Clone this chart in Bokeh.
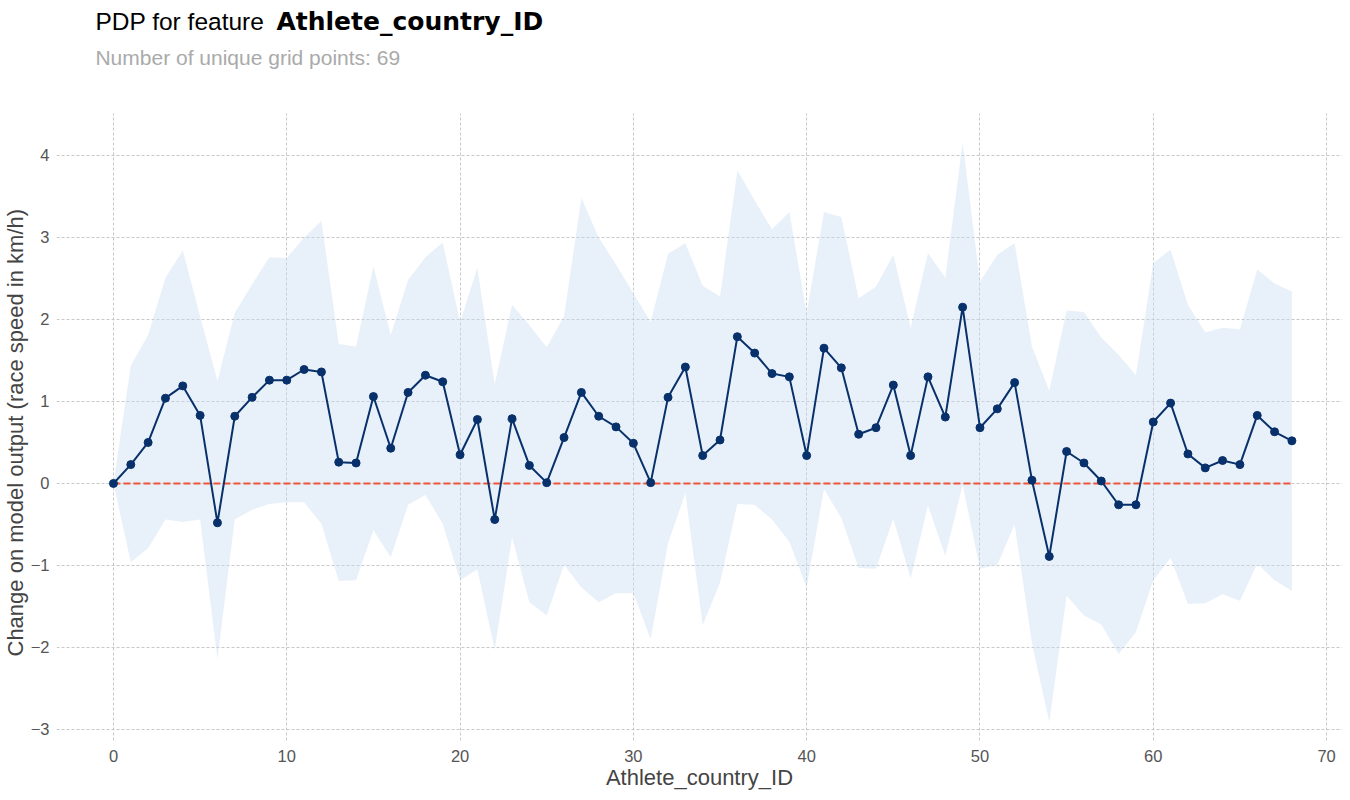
from bokeh.plotting import figure
from bokeh.models import Range1d, FixedTicker, CustomJSTickFormatter, Label, ColumnDataSource, Grid, Title
from bokeh.embed import file_html
from bokeh.resources import INLINE

# ---- data ----
grid_x = list(range(69))
pdp = [0.00, 0.23, 0.50, 1.04, 1.19, 0.83, -0.48, 0.82, 1.05, 1.26,
       1.26, 1.39, 1.36, 0.26, 0.25, 1.06, 0.43, 1.11, 1.32, 1.24,
       0.35, 0.78, -0.44, 0.79, 0.22, 0.01, 0.56, 1.11, 0.82, 0.69,
       0.49, 0.01, 1.05, 1.42, 0.34, 0.53, 1.79, 1.59, 1.34, 1.30,
       0.34, 1.65, 1.41, 0.60, 0.68, 1.20, 0.34, 1.30, 0.81, 2.15,
       0.68, 0.91, 1.23, 0.04, -0.89, 0.39, 0.25, 0.03, -0.26, -0.26,
       0.75, 0.98, 0.36, 0.19, 0.28, 0.23, 0.83, 0.63, 0.52]
upper = [0.00, 1.44, 1.81, 2.51, 2.84, 2.04, 1.25, 2.08, 2.43, 2.76,
         2.75, 3.00, 3.20, 1.70, 1.67, 2.65, 1.81, 2.48, 2.76, 2.94,
         1.97, 2.63, 1.21, 2.18, 1.93, 1.66, 2.04, 3.48, 3.00, 2.67,
         2.32, 1.97, 2.80, 2.93, 2.41, 2.28, 3.82, 3.45, 3.10, 3.31,
         2.08, 3.31, 3.25, 2.26, 2.40, 2.79, 1.90, 2.81, 2.51, 4.16,
         2.46, 2.79, 2.93, 1.67, 1.13, 2.11, 2.09, 1.78, 1.57, 1.32,
         2.69, 2.85, 2.18, 1.84, 1.90, 1.88, 2.61, 2.44, 2.34]
lower = [0.00, -0.96, -0.79, -0.44, -0.47, -0.44, -2.14, -0.44, -0.32, -0.25,
         -0.23, -0.23, -0.49, -1.19, -1.18, -0.57, -0.90, -0.26, -0.14, -0.49,
         -1.18, -1.05, -2.03, -0.66, -1.45, -1.61, -0.99, -1.27, -1.45, -1.34,
         -1.34, -1.90, -0.73, -0.12, -1.73, -1.21, -0.25, -0.26, -0.44, -0.71,
         -1.27, -0.07, -0.42, -1.03, -1.04, -0.43, -1.16, -0.27, -0.88, -0.02,
         -1.04, -0.99, -0.50, -1.95, -2.91, -1.37, -1.61, -1.72, -2.08, -1.81,
         -1.18, -0.91, -1.47, -1.46, -1.35, -1.43, -0.98, -1.18, -1.31]
x_ticks = [0, 10, 20, 30, 40, 50, 60, 70]
y_ticks = [-3, -2, -1, 0, 1, 2, 3, 4]
feature_name = "Athlete_country_ID"
title_prefix = "PDP for feature "
subtitle = "Number of unique grid points: 69"
x_title = "Athlete_country_ID"
y_title = "Change on model output (race speed in km/h)"
baseline = [0.0, 0.0]
baseline_x = [grid_x[0], grid_x[-1]]

FONT = "Liberation Sans"
Y_LO, Y_HI = -3.256, 4.512      # visible plotting band (data units)

src = ColumnDataSource(dict(x=grid_x, y=pdp, lo=lower, hi=upper))

p = figure(width=1342, height=792, output_backend="svg", toolbar_location=None,
           x_range=Range1d(-3.287, 70.92), y_range=Range1d(-3.159, 5.89),
           min_border_left=40, min_border_right=0, min_border_top=0, min_border_bottom=40)
p.outline_line_color = None
p.background_fill_color = "white"

# band
p.varea(x="x", y1="lo", y2="hi", source=src, fill_color="#c6dbef", fill_alpha=0.4)
# zero line
p.line(baseline_x, baseline, line_color="#ef553b", line_width=2, line_dash="7 3")
# pdp line + markers
p.line("x", "y", source=src, line_color="#08306b", line_width=2)
p.scatter("x", "y", source=src, size=8, fill_color="#08306b", line_color="#08306b")

# grids
for g in (p.xgrid, p.ygrid):
    g.grid_line_color = "#c8c8c8"
    g.grid_line_dash = "3 2"
    g.grid_line_width = 1
p.xgrid.ticker = FixedTicker(ticks=x_ticks)
p.ygrid.ticker = FixedTicker(ticks=y_ticks)
if "cross_bounds" in Grid.properties():
    p.xgrid.cross_bounds = (Y_LO, Y_HI)
else:
    p.xgrid.visible = False
    p.segment(x0=x_ticks, x1=x_ticks, y0=[Y_LO] * len(x_ticks), y1=[Y_HI] * len(x_ticks),
              line_color="#c8c8c8", line_dash="3 2", line_width=1, level="underlay")

fmt = CustomJSTickFormatter(code="return tick < 0 ? '\u2212' + Math.abs(tick) : String(tick);")
for ax, ticks in ((p.xaxis[0], x_ticks), (p.yaxis[0], y_ticks)):
    ax.ticker = FixedTicker(ticks=ticks)
    ax.formatter = fmt
    ax.axis_line_color = None
    ax.major_tick_line_color = None
    ax.minor_tick_line_color = None
    ax.major_tick_out = 0
    ax.major_tick_in = 0
    ax.minor_tick_out = 0
    ax.minor_tick_in = 0
    ax.major_label_text_font = FONT
    ax.major_label_text_font_size = "16.5px"
    ax.major_label_text_color = "#555555"
    ax.major_label_standoff = 7
    ax.axis_label_text_font = FONT
    ax.axis_label_text_font_size = "22px"
    ax.axis_label_text_font_style = "normal"
    ax.axis_label_text_color = "#444444"
    ax.axis_label_standoff = 0
p.xaxis.axis_label = x_title

# y-axis title, centred on the plotting band rather than on the full frame
p.add_layout(Title(text=y_title, align="left", offset=86, standoff=0,
                   text_font=FONT, text_font_size="22px", text_font_style="normal",
                   text_color="#444444"), "left")

# titles (inside the frame's upper, empty region)
p.add_layout(Label(x=-1.04, y=5.638, text=title_prefix, text_font=FONT, text_font_size="24.5px",
                   text_color="#000000", text_baseline="alphabetic"))
p.add_layout(Label(x=-1.04, y=5.638, x_offset=181, text=feature_name, text_font="DejaVu Sans",
                   text_font_style="bold", text_font_size="25px", text_color="#000000",
                   text_baseline="alphabetic"))
p.add_layout(Label(x=-1.04, y=5.191, text=subtitle, text_font=FONT, text_font_size="21px",
                   text_color="#aaaaaa", text_baseline="alphabetic"))

open("out.html", "w").write(file_html(p, INLINE))
